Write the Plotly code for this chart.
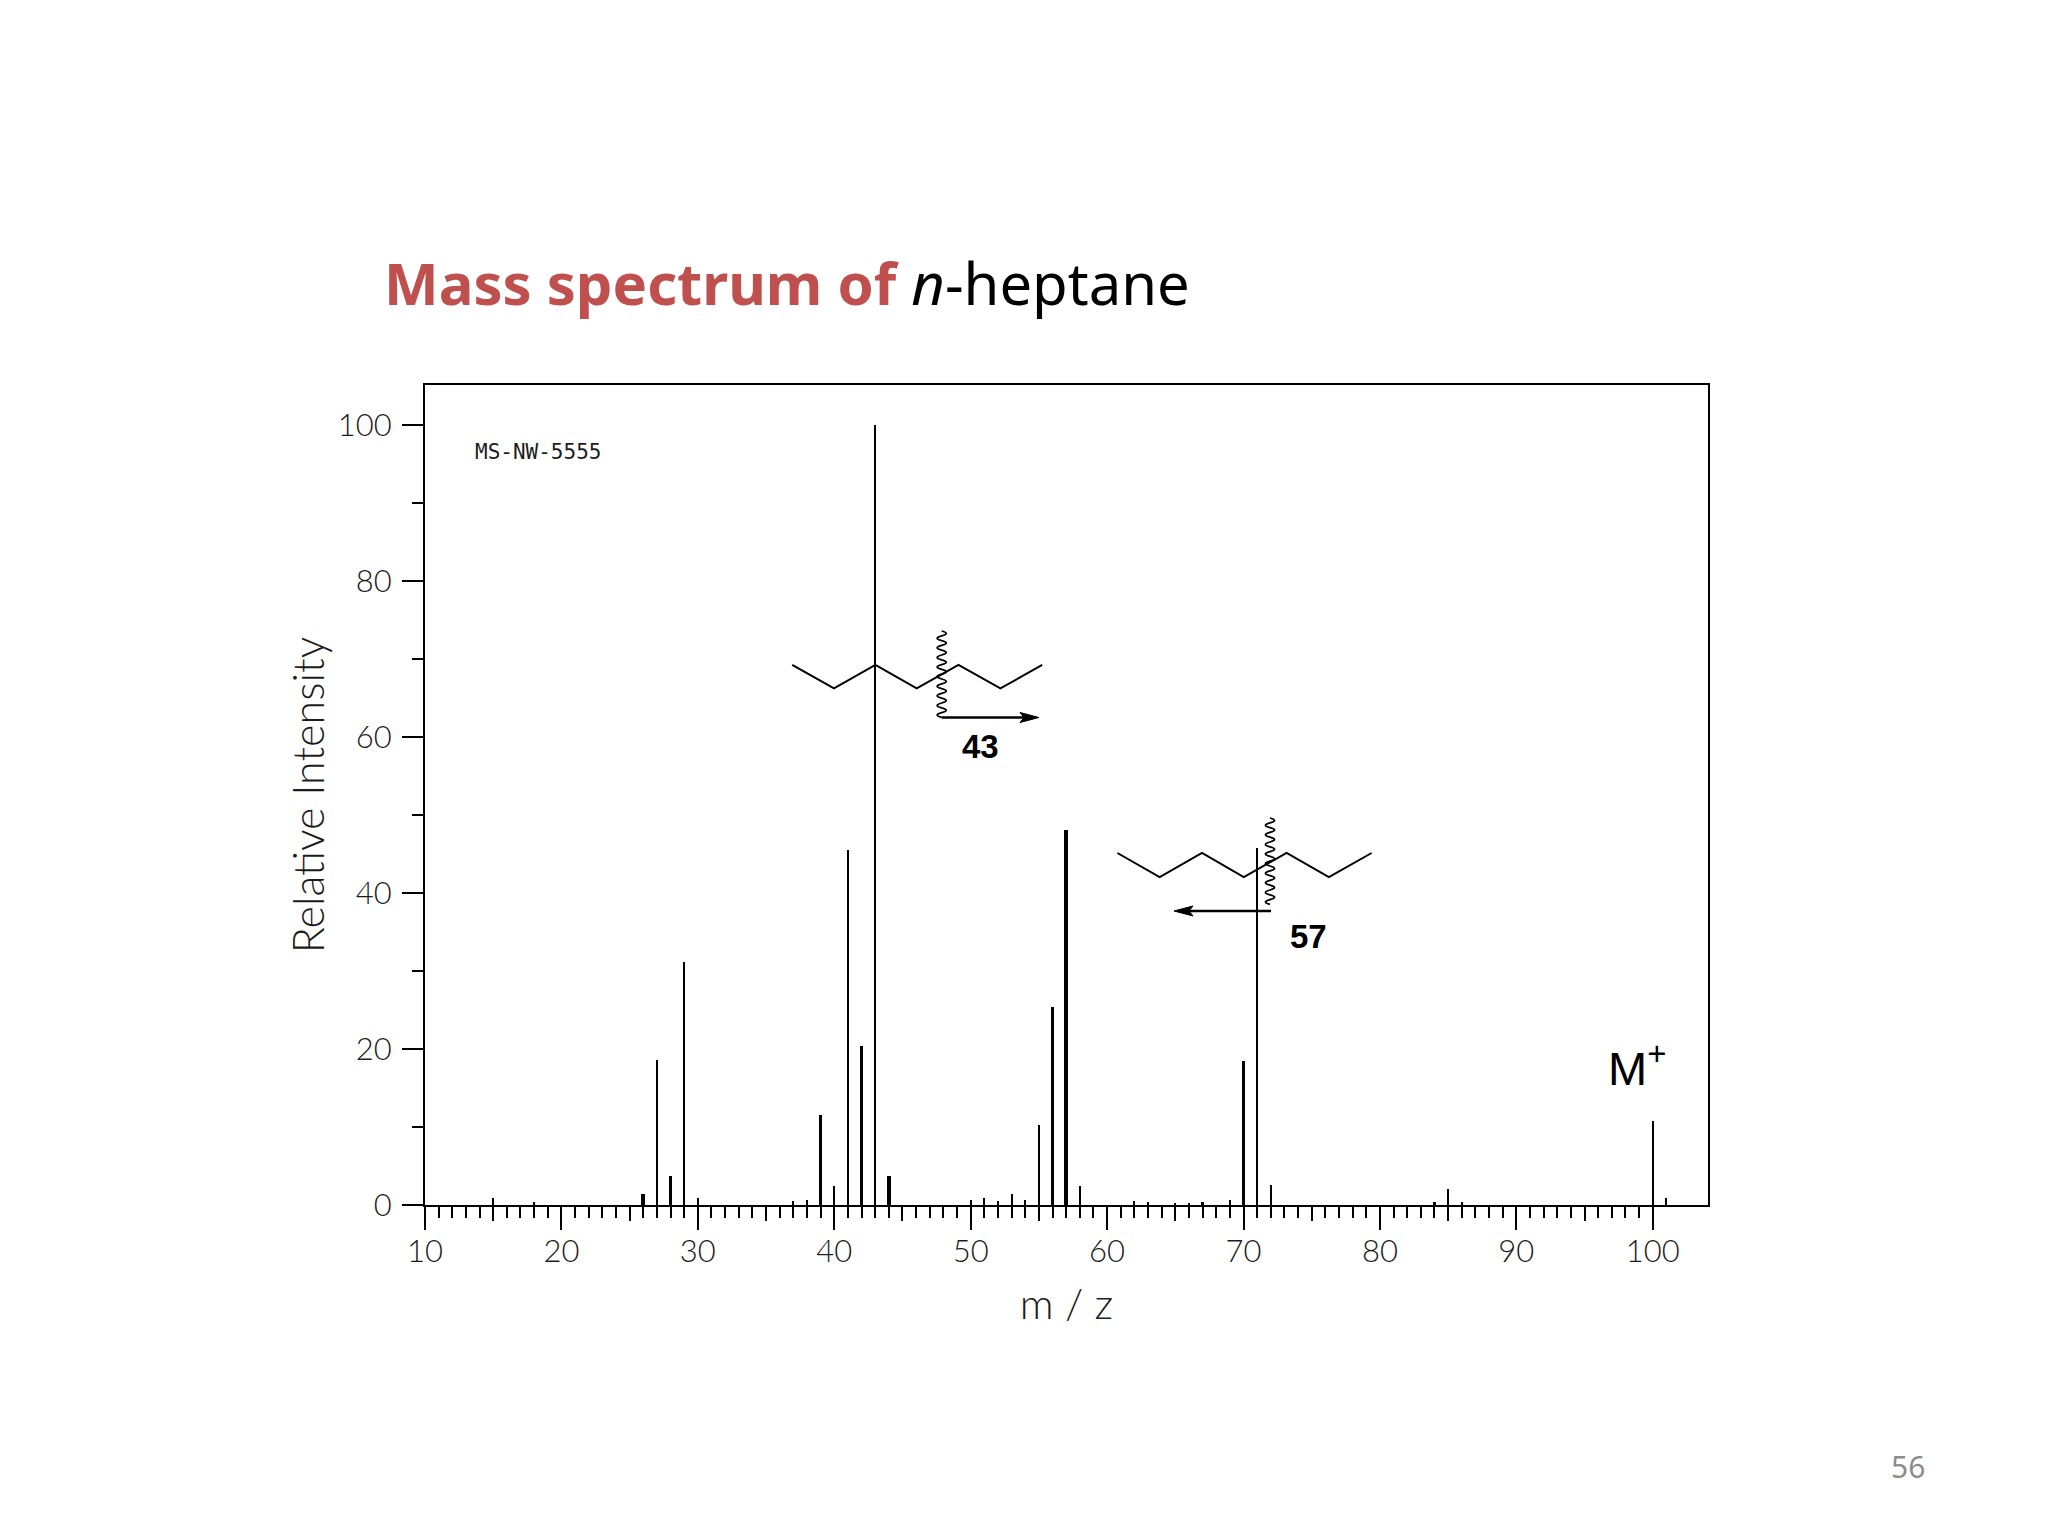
import plotly.graph_objects as go

# peaks
mz = [15, 18, 26, 27, 28, 29, 30, 37, 38, 39, 40, 41, 42, 43, 44, 50, 51, 52, 53, 54,
      55, 56, 57, 58, 62, 63, 65, 66, 67, 69, 70, 71, 72, 84, 85, 86, 100, 101]
intensity = [0.95, 0.4, 1.45, 18.6, 3.7, 31.2, 0.95, 0.45, 0.7, 11.6, 2.4, 45.5, 20.4, 100, 3.7, 0.7, 0.95, 0.45, 1.45, 0.7,
             10.3, 25.4, 48.1, 2.45, 0.45, 0.4, 0.3, 0.3, 0.4, 0.7, 18.4, 45.8, 2.6, 0.4, 2.0, 0.4, 10.8, 0.95]
thick_peaks = [26, 39, 44, 57]

W, H = 2048, 1536
BODY_MARGIN = 8  # the page keeps the browser's default body margin
LEFT, RIGHT, TOP, BOTTOM = 425, 1708, 385, 1205
TITLE_RED = "#C0504D"
LABEL_FONT = "Lato"
LABEL_COLOR = "#1c1c1c"


def px(x):
    return (x - LEFT) / (RIGHT - LEFT)


def py(y):
    return (BOTTOM - y) / (BOTTOM - TOP)


def zigzag(xs, y_high, y_low):
    path = ""
    for i, x in enumerate(xs):
        y = y_high if i % 2 == 0 else y_low
        path += ("M" if i == 0 else "L") + f" {px(x):.5f} {py(y):.5f} "
    return dict(type="path", xref="paper", yref="paper", path=path,
                line=dict(color="black", width=2))


def wavy(x, y0, y1, step=4.8, amp=4.5):
    path = f"M {px(x):.5f} {py(y0):.5f} "
    y = y0
    side = 1
    while y + step <= y1 + 0.1:
        path += f"Q {px(x + side * amp * 2):.5f} {py(y + step / 2):.5f} {px(x):.5f} {py(y + step):.5f} "
        y += step
        side = -side
    return dict(type="path", xref="paper", yref="paper", path=path,
                line=dict(color="black", width=1.8))


def arrow(x0, x1, y):
    sign = 1 if x1 > x0 else -1
    back = x1 - sign * 19
    notch = x1 - sign * 15
    shaft = dict(type="line", xref="paper", yref="paper", x0=px(x0), x1=px(notch), y0=py(y), y1=py(y),
                 line=dict(color="black", width=2.5))
    head = dict(type="path", xref="paper", yref="paper",
                path=f"M {px(x1):.5f} {py(y):.5f} L {px(back):.5f} {py(y - 5):.5f} "
                     f"L {px(notch):.5f} {py(y):.5f} L {px(back):.5f} {py(y + 5):.5f} Z",
                fillcolor="black", line=dict(color="black", width=1))
    return [shaft, head]


def label(x, y, text, size, family="Liberation Sans", color="black", xanchor="center"):
    return dict(x=px(x), y=py(y), xref="paper", yref="paper", text=text, showarrow=False,
                xanchor=xanchor, yanchor="middle",
                font=dict(family=family, size=size, color=color))


fig = go.Figure()

fig.add_trace(go.Bar(
    x=mz,
    y=intensity,
    width=[0.27 if m in thick_peaks else 0.16 for m in mz],
    marker=dict(color="black", line=dict(width=0)),
))

# only there so the 5-step tick axis gets drawn
fig.add_trace(go.Scatter(x=[10], y=[0], xaxis="x2", mode="markers",
                         marker=dict(opacity=0), hoverinfo="skip"))

shapes = [
    zigzag([792.2, 834, 875.4, 916.7, 958.5, 1000.4, 1042.2], 665, 688.4),
    wavy(941.7, 631, 717.5),
    zigzag([1117.4, 1159.7, 1202, 1243.8, 1286.6, 1328.9, 1371.6], 853, 877),
    wavy(1270, 818, 909),
] + arrow(941.7, 1039, 717.5) + arrow(1271, 1174, 911)

annotations = [
    label(980.5, 746, "<b>43</b>", 33),
    label(1308.5, 936.5, "<b>57</b>", 33),
    label(1637, 1065, "M<sup>+</sup>", 47),
    label(538, 452, "MS-NW-5555", 21, family="DejaVu Sans Mono", color=LABEL_COLOR),
    label(382, 282, f'<b><span style="color:{TITLE_RED}">Mass spectrum of </span></b><i>n</i>-heptane',
          58, family="Noto Sans", xanchor="left"),
    label(1908, 1466, "56", 30, family="Noto Sans", color="#8c8c8c"),
]

fig.update_layout(
    width=W,
    height=H,
    margin=dict(l=LEFT - BODY_MARGIN, r=W - RIGHT + BODY_MARGIN, t=TOP - BODY_MARGIN,
                b=H - BOTTOM + BODY_MARGIN, autoexpand=False),
    paper_bgcolor="white",
    plot_bgcolor="white",
    showlegend=False,
    bargap=0,
    shapes=shapes,
    annotations=annotations,
    xaxis=dict(
        range=[10, 104.05],
        tick0=10,
        dtick=10,
        ticks="outside",
        ticklen=23,
        tickwidth=2,
        tickcolor="black",
        minor=dict(tickvals=list(range(10, 101)), ticks="outside", ticklen=11, tickwidth=2, tickcolor="black", showgrid=False),
        showline=True,
        linecolor="black",
        linewidth=2,
        mirror=True,
        showgrid=False,
        zeroline=False,
        tickfont=dict(family=LABEL_FONT, size=31, color=LABEL_COLOR, weight=300),
        ticklabelstandoff=-5,
        title=dict(text="m / z", font=dict(family=LABEL_FONT, size=42, color=LABEL_COLOR, weight=300), standoff=21),
    ),
    xaxis2=dict(
        range=[10, 104.05],
        overlaying="x",
        side="bottom",
        tickvals=[15, 25, 35, 45, 55, 65, 75, 85, 95],
        showticklabels=False,
        ticks="outside",
        ticklen=15,
        tickwidth=2,
        tickcolor="black",
        showgrid=False,
        zeroline=False,
    ),
    yaxis=dict(
        range=[0, 105.1],
        tick0=0,
        dtick=20,
        ticks="outside",
        ticklen=21,
        tickwidth=2,
        tickcolor="black",
        minor=dict(dtick=10, tick0=0, ticks="outside", ticklen=11, tickwidth=2, tickcolor="black", showgrid=False),
        showline=True,
        linecolor="black",
        linewidth=2,
        mirror=True,
        showgrid=False,
        zeroline=False,
        tickfont=dict(family=LABEL_FONT, size=31, color=LABEL_COLOR, weight=300),
        ticklabelstandoff=4,
        title=dict(text="Relative Intensity", font=dict(family=LABEL_FONT, size=43, color=LABEL_COLOR, weight=300), standoff=0),
    ),
)

fig.write_html("out.html")
